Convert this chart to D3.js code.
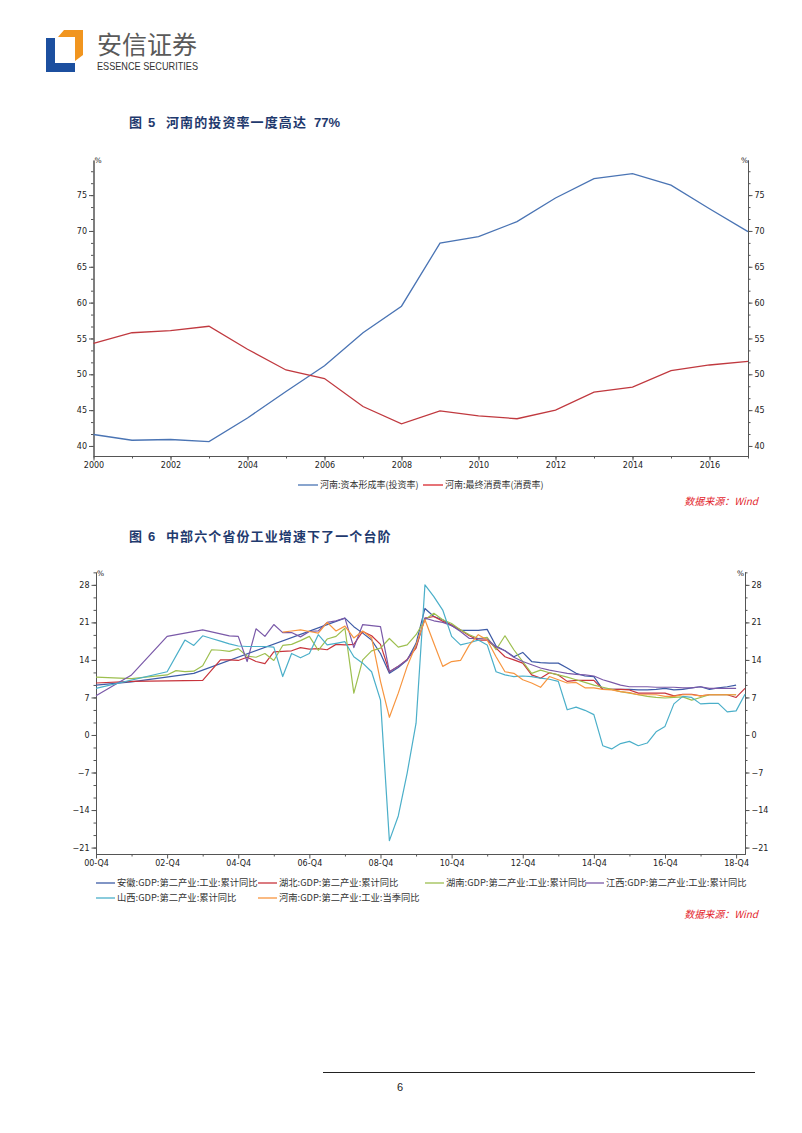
<!DOCTYPE html>
<html><head><meta charset="utf-8">
<script src="https://cdn.jsdelivr.net/npm/d3@7"></script>
<style>body{margin:0;background:#fff} svg{display:block}</style>
</head><body><svg id="c" width="802" height="1133"></svg>
<script>
// ---------- Chart 1 data ----------
const years1 = [2000,2001,2002,2003,2004,2005,2006,2007,2008,2009,2010,2011,2012,2013,2014,2015,2016,2017];
const investRate = [41.6,40.8,40.9,40.6,43.9,47.6,51.2,55.8,59.5,68.3,69.2,71.3,74.6,77.3,78.0,76.4,73.1,69.9];
const consumeRate = [54.3,55.8,56.1,56.7,53.5,50.6,49.4,45.5,43.1,44.9,44.2,43.8,45.0,47.5,48.2,50.5,51.3,51.8];
const xTicks1 = [2000,2002,2004,2006,2008,2010,2012,2014,2016];
const yTicks1 = [40,45,50,55,60,65,70,75];
const legend1 = ["河南:资本形成率(投资率)","河南:最终消费率(消费率)"];

// ---------- Chart 2 data (quarterly, index 0 = 2000-Q4 ... 73 = 2019-Q1) ----------
const xTickLabels2 = ["00-Q4","02-Q4","04-Q4","06-Q4","08-Q4","10-Q4","12-Q4","14-Q4","16-Q4","18-Q4"];
const yTicks2 = [-21,-14,-7,0,7,14,21,28];
const N = null;
const anhui = [9.3,N,N,N,9.9,N,N,N,N,N,N,11.5,N,N,N,N,N,N,N,N,N,N,N,N,N,N,N,N,
  21.8,20.2,19.0,17.7,15.2,11.5,12.6,14.0,17.1,23.6,22.1,21.5,20.4,19.5,19.5,19.5,19.7,16.6,15.7,14.6,15.4,13.7,13.5,13.4,13.4,12.5,11.5,11.0,10.9,
  8.5,8.5,8.5,8.5,8.4,8.4,8.5,8.7,8.4,8.5,8.8,9.0,8.5,8.8,9.0,9.3,N];
const hubei = [9.7,N,N,N,10.0,N,N,N,10.1,N,N,N,10.2,N,14.0,14.0,13.9,14.5,13.7,13.3,15.5,15.6,15.7,16.3,16.0,16.1,15.9,16.9,
  16.8,16.9,19.3,18.5,16.9,11.8,12.8,14.1,16.2,21.8,22.1,21.2,20.5,19.6,18.5,17.7,17.7,16.2,14.6,14.0,13.4,11.2,10.6,11.6,11.2,10.0,10.2,10.2,10.2,
  8.5,8.5,8.5,8.4,7.8,7.8,7.8,7.8,7.3,7.6,7.6,7.3,7.5,7.5,7.5,7.0,8.7];
const hunan = [10.8,N,N,N,10.5,N,N,N,11.2,12.0,11.8,11.9,12.9,15.9,15.8,15.6,16.1,14.7,14.5,15.2,13.9,16.7,16.9,17.6,18.4,15.8,17.9,18.4,
  19.9,7.8,14.0,15.7,16.2,18.0,16.4,16.8,18.7,21.5,22.7,21.5,20.8,19.6,18.7,18.0,18.2,15.9,18.5,15.9,13.7,11.5,12.1,11.6,11.2,10.8,10.3,9.8,9.3,
  8.9,8.5,8.1,7.8,7.5,7.2,7.0,6.9,7.0,7.1,6.5,7.0,7.5,7.5,7.5,7.5,N];
const jiangxi = [7.3,N,N,N,11.2,N,N,N,18.4,N,N,N,19.6,N,N,18.5,18.4,13.7,19.8,18.4,20.6,19.1,19.1,18.3,19.3,19.4,21.0,21.3,
  21.8,16.3,20.6,20.4,20.2,11.8,12.8,14.0,16.5,21.8,21.3,21.0,20.4,19.3,18.0,18.0,17.9,16.4,15.7,14.5,13.7,13.1,12.5,12.1,11.8,11.5,11.3,11.2,11.0,
  10.3,9.8,9.3,9.0,9.0,9.0,8.9,8.9,8.9,8.8,8.8,9.0,8.7,8.7,8.7,8.7,N];
const shanxi = [8.7,N,N,N,N,N,N,N,11.8,N,17.7,16.7,18.5,18.0,17.5,17.0,16.6,16.5,16.5,16.5,16.4,10.9,15.2,14.4,15.2,18.7,16.8,17.1,
  17.4,14.6,13.4,11.8,6.5,-19.7,-15.1,-7.1,2.2,28.0,25.8,23.3,18.4,16.8,17.2,17.7,16.8,11.8,11.2,10.9,11.0,10.9,10.6,10.4,10.0,4.7,5.2,4.6,3.8,
  -2.0,-2.6,-1.6,-1.2,-2.0,-1.5,0.6,1.6,5.8,7.2,7.0,5.8,5.9,5.9,4.3,4.5,7.6];
const henan = [N,N,N,N,N,N,N,N,N,N,N,N,N,N,N,N,N,N,N,N,N,19.2,19.4,19.6,19.3,19.0,21.0,19.4,
  20.3,18.1,19.4,18.1,10.0,3.3,7.8,12.8,16.8,21.5,17.1,12.8,13.7,13.9,16.8,18.7,17.7,14.6,11.8,11.5,10.3,9.7,8.9,10.9,10.3,9.7,9.8,8.8,8.8,
  8.5,8.4,8.1,7.9,7.5,7.5,7.5,7.2,7.2,7.5,7.5,7.3,7.5,7.5,7.5,7.5,N];
const seriesNames2 = ["安徽:GDP:第二产业:工业:累计同比","湖北:GDP:第二产业:累计同比","湖南:GDP:第二产业:工业:累计同比","江西:GDP:第二产业:工业:累计同比","山西:GDP:第二产业:累计同比","河南:GDP:第二产业:工业:当季同比"];
const seriesData2 = [anhui, hubei, hunan, jiangxi, shanxi, henan];
const colors2 = ["#3d5ba6","#c8343c","#9dbf4f","#7a59a8","#4bafc9","#f7953f"];

// ---------- drawing ----------
const svg = d3.select("#c");
svg.append("rect").attr("width",802).attr("height",1133).attr("fill","#fff");
const tickFont = "DejaVu Sans, Verdana, sans-serif";
const cjk = "'Noto Sans CJK SC', sans-serif";

// Logo
const logo = svg.append("g");
logo.append("path").attr("d","M46,38 L55,38 L55,63 L75,63 L75,72 L46,72 Z").attr("fill","#1c4f9f");
logo.append("path").attr("d","M58,37 L64,30 L83,30 L83,55 L75,61 L75,37 Z").attr("fill","#f1951f");
logo.append("text").attr("x",97).attr("y",54).attr("font-family",cjk).attr("font-size",25).attr("fill","#5a5a5a").text("安信证券");
logo.append("text").attr("x",97).attr("y",69.5).attr("font-family","Liberation Sans, Arial, sans-serif").attr("font-size",10.5)
  .attr("fill","#333").attr("textLength",101).attr("lengthAdjust","spacingAndGlyphs").text("ESSENCE SECURITIES");

// Titles
function title(y, num, body, tail){
  const t = svg.append("text").attr("y",y).attr("font-family",cjk).attr("font-weight","bold").attr("font-size",13).attr("fill","#1f3a6e");
  t.append("tspan").attr("x",129).text("图");
  t.append("tspan").attr("x",148).attr("font-family","Liberation Sans, Arial, sans-serif").text(num);
  t.append("tspan").attr("x",166).attr("letter-spacing","1.1px").text(body);
  if (tail) t.append("tspan").attr("x",314).attr("font-family","Liberation Sans, Arial, sans-serif").text(tail);
}
title(127,"5","河南的投资率一度高达","77%");
title(541,"6","中部六个省份工业增速下了一个台阶",null);

function styleAxis(g){
  g.selectAll("path.domain").attr("stroke","#555").attr("stroke-width",1);
  g.selectAll(".tick line").attr("stroke","#555");
  g.selectAll(".tick text").attr("font-family",tickFont).attr("font-size",8).attr("fill","#222");
}
function minorTicks(lo, hi, step){
  const out=[]; for(let k=Math.ceil(lo/step-1e-9); k*step<=hi+1e-9; k++) out.push(+(k*step).toFixed(4)); return out;
}

// ---------- Chart 1 ----------
{
  const L=93.5, R=748, T=160, B=456;
  const x = d3.scaleLinear().domain([2000,2017]).range([L,R]);
  const y = d3.scaleLinear().domain([38.6,79.9]).range([B,T]);
  const g = svg.append("g");
  const minY = minorTicks(38.6,79.9,5/3);
  const minX = years1;
  g.append("g").attr("transform",`translate(${L},0)`).call(d3.axisLeft(y).tickValues(minY).tickSize(2.5).tickSizeOuter(0).tickFormat("")).call(styleAxis);
  g.append("g").attr("transform",`translate(${R},0)`).call(d3.axisRight(y).tickValues(minY).tickSize(2.5).tickSizeOuter(0).tickFormat("")).call(styleAxis);
  g.append("g").attr("transform",`translate(0,${B})`).call(d3.axisBottom(x).tickValues(minX).tickSize(2.5).tickSizeOuter(0).tickFormat("")).call(styleAxis);
  g.append("g").attr("transform",`translate(${L},0)`).call(d3.axisLeft(y).tickValues(yTicks1).tickSize(4.5).tickPadding(2).tickSizeOuter(0)).call(styleAxis);
  g.append("g").attr("transform",`translate(${R},0)`).call(d3.axisRight(y).tickValues(yTicks1).tickSize(4.5).tickPadding(2).tickSizeOuter(0)).call(styleAxis);
  g.append("g").attr("transform",`translate(0,${B})`).call(d3.axisBottom(x).tickValues(xTicks1).tickSize(4.5).tickPadding(2).tickFormat(d3.format("d")).tickSizeOuter(0)).call(styleAxis);
  g.append("text").attr("x",L+1).attr("y",T+3).attr("font-family",tickFont).attr("font-size",7.5).attr("fill","#222").text("%");
  g.append("text").attr("x",R-7).attr("y",T+3).attr("font-family",tickFont).attr("font-size",7.5).attr("fill","#222").text("%");
  const line = d3.line().x((d,i)=>x(years1[i])).y(d=>y(d));
  g.append("path").datum(investRate).attr("d",line).attr("fill","none").attr("stroke","#4a74b4").attr("stroke-width",1.3);
  g.append("path").datum(consumeRate).attr("d",line).attr("fill","none").attr("stroke","#c0393f").attr("stroke-width",1.3);
  const lg = svg.append("g").attr("font-family",cjk).attr("font-size",9).attr("fill","#333");
  [[298,"#4a74b4",legend1[0]],[423,"#d8282e",legend1[1]]].forEach(([lx,c,t])=>{
    lg.append("line").attr("x1",lx).attr("x2",lx+20).attr("y1",485).attr("y2",485).attr("stroke",c).attr("stroke-width",1.3);
    lg.append("text").attr("x",lx+22).attr("y",488).text(t);
  });
  svg.append("text").attr("x",758).attr("y",505).attr("text-anchor","end").attr("font-family",cjk).attr("font-style","italic")
    .attr("font-size",10).attr("fill","#e3262c").text("数据来源：Wind");
}

// ---------- Chart 2 ----------
{
  const L=96, R=745, T=572, B=854;
  const x = d3.scaleLinear().domain([0,73]).range([L,R]);
  const y = d3.scaleLinear().domain([-22.2,30.4]).range([B,T]);
  const g = svg.append("g");
  const minY = minorTicks(-22.2,30.4,7/3);
  const majX = xTickLabels2.map((d,i)=>i*8);
  const minX = d3.range(4,73,8);
  g.append("g").attr("transform",`translate(${L},0)`).call(d3.axisLeft(y).tickValues(minY).tickSize(2.5).tickSizeOuter(0).tickFormat("")).call(styleAxis);
  g.append("g").attr("transform",`translate(${R},0)`).call(d3.axisRight(y).tickValues(minY).tickSize(2.5).tickSizeOuter(0).tickFormat("")).call(styleAxis);
  g.append("g").attr("transform",`translate(0,${B})`).call(d3.axisBottom(x).tickValues(minX).tickSize(2.5).tickSizeOuter(0).tickFormat("")).call(styleAxis);
  g.append("g").attr("transform",`translate(${L},0)`).call(d3.axisLeft(y).tickValues(yTicks2).tickSize(4.5).tickPadding(2).tickSizeOuter(0)).call(styleAxis);
  g.append("g").attr("transform",`translate(${R},0)`).call(d3.axisRight(y).tickValues(yTicks2).tickSize(4.5).tickPadding(2).tickSizeOuter(0)).call(styleAxis);
  g.append("g").attr("transform",`translate(0,${B})`).call(d3.axisBottom(x).tickValues(majX).tickSize(4.5).tickPadding(2).tickFormat((d,i)=>xTickLabels2[i]).tickSizeOuter(0)).call(styleAxis);
  g.append("text").attr("x",L+1).attr("y",T+4).attr("font-family",tickFont).attr("font-size",7.5).attr("fill","#222").text("%");
  g.append("text").attr("x",R-8).attr("y",T+4).attr("font-family",tickFont).attr("font-size",7.5).attr("fill","#222").text("%");
  const line = d3.line().x(d=>x(d.i)).y(d=>y(d.v));
  seriesData2.forEach((arr,k)=>{
    const pts = arr.map((v,i)=>({i,v})).filter(d=>d.v!==null);
    g.append("path").datum(pts).attr("d",line).attr("fill","none").attr("stroke",colors2[k]).attr("stroke-width",1.2).attr("stroke-linejoin","round");
  });
  const lg = svg.append("g").attr("font-family",cjk).attr("font-size",9.3).attr("fill","#333");
  const pos = [[96,883],[258,883],[425,883],[585,883],[96,898],[258,898]];
  seriesNames2.forEach((t,k)=>{
    const [lx,ly]=pos[k];
    lg.append("line").attr("x1",lx).attr("x2",lx+19).attr("y1",ly).attr("y2",ly).attr("stroke",colors2[k]).attr("stroke-width",1.3);
    lg.append("text").attr("x",lx+21).attr("y",ly+3).text(t);
  });
  svg.append("text").attr("x",758).attr("y",918).attr("text-anchor","end").attr("font-family",cjk).attr("font-style","italic")
    .attr("font-size",10).attr("fill","#e3262c").text("数据来源：Wind");
}

// footer
svg.append("line").attr("x1",323).attr("x2",755).attr("y1",1072.5).attr("y2",1072.5).attr("stroke","#222").attr("stroke-width",1);
svg.append("text").attr("x",400).attr("y",1091).attr("text-anchor","middle").attr("font-family","Liberation Sans, Arial, sans-serif").attr("font-size",11).attr("fill","#222").text("6");
</script></body></html>
